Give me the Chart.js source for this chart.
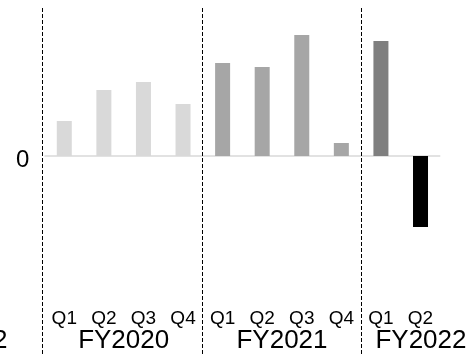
<!DOCTYPE html>
<html>
<head>
<meta charset="utf-8">
<script src="https://cdn.jsdelivr.net/npm/chart.js@4/dist/chart.umd.min.js"></script>
<style>
  html, body { margin: 0; padding: 0; background: #ffffff; }
  #wrap { width: 468px; height: 356px; position: relative; }
</style>
</head>
<body>
<div id="wrap"><canvas id="c" width="468" height="356"></canvas></div>
<script>
// Quarterly values, grouped by fiscal year
const quarters = ['Q1', 'Q2', 'Q3', 'Q4', 'Q1', 'Q2', 'Q3', 'Q4', 'Q1', 'Q2'];
const values = [35, 66, 74, 52, 93, 89, 121, 13, 115, -71];
const barColors = ['#d9d9d9', '#d9d9d9', '#d9d9d9', '#d9d9d9',
                   '#a6a6a6', '#a6a6a6', '#a6a6a6', '#a6a6a6',
                   '#7f7f7f', '#000000'];
const fiscalYears = ['FY2020', 'FY2021', 'FY2022'];
const yearStart = [0, 4, 8];
const yearEnd = [3, 7, 9];
const yTicks = [0];

const FONT = '"Liberation Sans", Arial, Helvetica, sans-serif';

const annotate = {
  id: 'annotate',
  beforeDatasetsDraw(chart) {
    const { ctx, chartArea, scales } = chart;
    const y0 = scales.y.getPixelForValue(0);
    ctx.save();
    ctx.strokeStyle = '#d9d9d9';
    ctx.lineWidth = 1.5;
    ctx.beginPath();
    ctx.moveTo(chartArea.left, y0);
    ctx.lineTo(chartArea.right, y0);
    ctx.stroke();
    ctx.restore();
  },
  afterDatasetsDraw(chart) {
    const { ctx, chartArea, scales } = chart;
    const x = scales.x, y = scales.y;
    ctx.save();

    // fiscal-year separators
    ctx.strokeStyle = '#000000';
    ctx.lineWidth = 1;
    ctx.setLineDash([4, 2]);
    const seps = [x.getPixelForValue(-0.5) - 2.5,
                  x.getPixelForValue(3.5) - 1,
                  x.getPixelForValue(7.5)];
    seps.forEach(px => {
      const xx = Math.round(px) + 0.5;
      ctx.beginPath();
      ctx.moveTo(xx, chartArea.top);
      ctx.lineTo(xx, chart.height);
      ctx.stroke();
    });
    ctx.setLineDash([]);

    // y tick label
    ctx.fillStyle = '#000000';
    ctx.textAlign = 'center';
    ctx.textBaseline = 'alphabetic';
    ctx.font = '24px ' + FONT;
    yTicks.forEach(v => {
      ctx.fillText(String(v), 22.7, y.getPixelForValue(v) + 10.5);
    });

    // quarter labels
    ctx.font = '19px ' + FONT;
    quarters.forEach((q, i) => {
      ctx.fillText(q, x.getPixelForValue(i), 324);
    });

    // fiscal-year labels; the last one sits flush against the right edge
    ctx.font = '26px ' + FONT;
    fiscalYears.forEach((fy, k) => {
      const cx = (x.getPixelForValue(yearStart[k]) + x.getPixelForValue(yearEnd[k])) / 2;
      if (k === fiscalYears.length - 1) {
        ctx.textAlign = 'right';
        ctx.fillText(fy, chart.width - 1.5, 348);
      } else {
        ctx.textAlign = 'center';
        ctx.fillText(fy, cx, 348);
      }
    });
    ctx.textAlign = 'right';
    ctx.fillText('2', 7.5, 348);
    ctx.restore();
  }
};

new Chart(document.getElementById('c'), {
  type: 'bar',
  data: {
    labels: quarters,
    datasets: [{
      data: values,
      backgroundColor: barColors,
      borderWidth: 0,
      categoryPercentage: 1,
      barPercentage: 0.379
    }]
  },
  options: {
    responsive: false,
    animation: false,
    events: [],
    layout: { padding: { top: 8, bottom: 56, left: 44.5, right: 27.7 } },
    plugins: { legend: { display: false }, tooltip: { enabled: false } },
    scales: {
      x: { display: false },
      y: { display: false, min: -144, max: 148 }
    }
  },
  plugins: [annotate]
});
</script>
</body>
</html>
